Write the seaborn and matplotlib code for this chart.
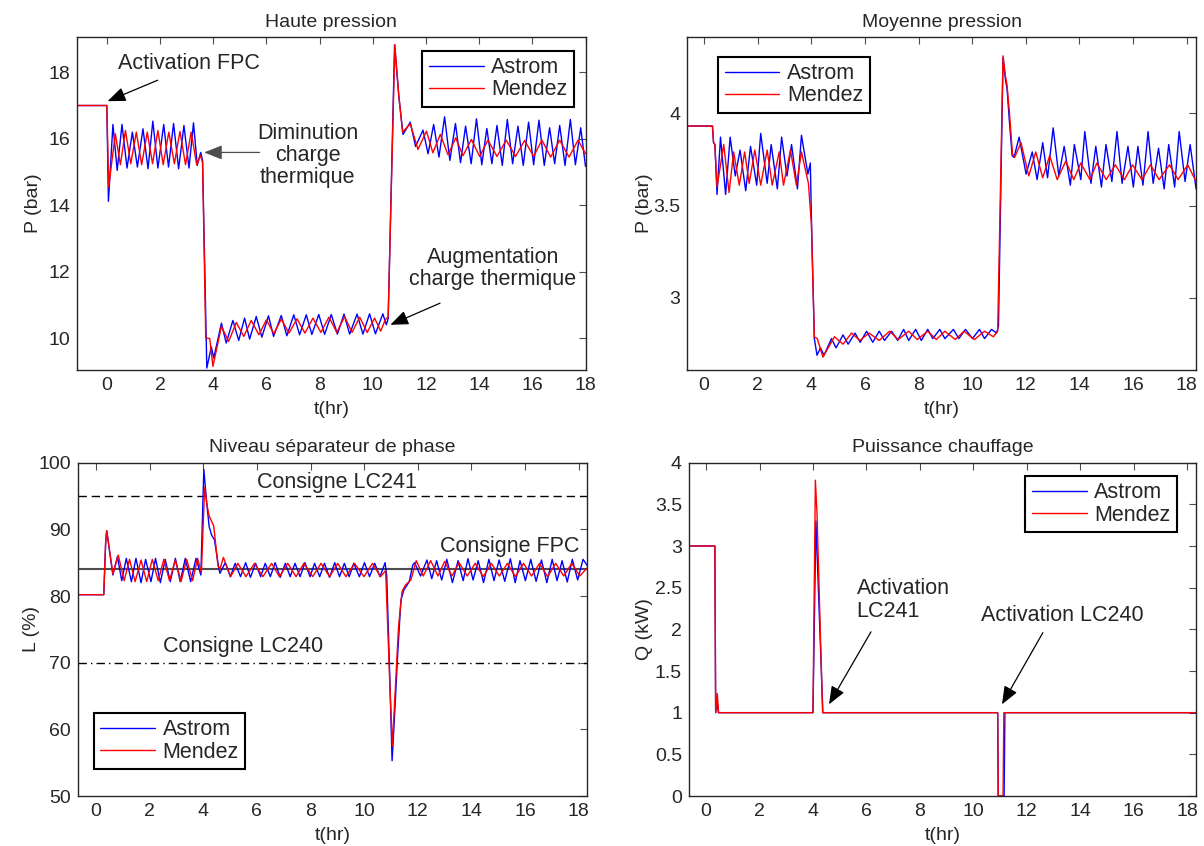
import numpy as np
import pandas as pd
import matplotlib.pyplot as plt
from matplotlib.ticker import FormatStrFormatter
import seaborn as sns

# --- Haute pression (bar) ---
hp_t_astrom = [-1.11, 0.0, 0.06,
               0.23, 0.39, 0.57, 0.76, 0.96, 1.15, 1.36, 1.55, 1.73, 1.92, 2.14, 2.32, 2.51, 2.70, 2.90, 3.09, 3.26, 3.40, 3.53, 3.60, 3.76, 3.93, 4.02,
               4.31, 4.49, 4.74, 4.96, 5.18, 5.37, 5.62, 5.83, 6.08, 6.27, 6.56, 6.77, 7.03, 7.25, 7.50, 7.71, 7.97, 8.19, 8.44, 8.67, 8.92, 9.13, 9.41, 9.63, 9.88, 10.10, 10.38, 10.51,
               10.58, 10.82, 10.98, 11.14, 11.41, 11.61,
               11.89, 12.08, 12.29, 12.49, 12.70, 12.90, 13.11, 13.30, 13.49, 13.70, 13.90, 14.10, 14.29, 14.48, 14.67, 14.87, 15.06, 15.26, 15.46, 15.66, 15.86, 16.05, 16.25, 16.45, 16.65, 16.84, 17.03, 17.23, 17.43, 17.62, 17.82, 18.0]
hp_astrom = [17.0, 17.0, 14.12,
             16.43, 15.05, 16.43, 15.12, 16.20, 15.15, 16.30, 15.10, 16.53, 15.12, 16.43, 15.15, 16.46, 15.10, 16.40, 15.12, 16.48, 15.20, 15.59, 15.35, 9.11, 9.75, 9.41,
             10.46, 9.86, 10.54, 9.94, 10.61, 9.98, 10.66, 10.04, 10.68, 10.06, 10.69, 10.08, 10.71, 10.11, 10.71, 10.12, 10.72, 10.12, 10.72, 10.13, 10.73, 10.13, 10.73, 10.13, 10.74, 10.14, 10.74, 10.41,
             10.6, 18.82, 17.28, 16.13, 16.50, 15.77,
             16.26, 15.55, 16.43, 15.45, 16.66, 15.35, 16.46, 15.28, 16.38, 15.25, 16.60, 15.22, 16.31, 15.25, 16.40, 15.20, 16.58, 15.25, 16.38, 15.20, 16.50, 15.22, 16.56, 15.20, 16.33, 15.25, 16.40, 15.20, 16.58, 15.22, 16.33, 15.17]
hp_t_mendez = [-1.11, 0.0, 0.07,
               0.32, 0.51, 0.70, 0.90, 1.11, 1.31, 1.52, 1.72, 1.92, 2.12, 2.33, 2.54, 2.75, 2.96, 3.17, 3.38, 3.52, 3.60, 3.72, 3.87, 3.99,
               4.31, 4.58, 4.87, 5.15, 5.43, 5.72, 6.00, 6.28, 6.56, 6.85, 7.15, 7.45, 7.75, 8.05, 8.35, 8.65, 8.94, 9.22, 9.51, 9.79, 10.07, 10.30, 10.47, 10.58,
               10.83, 10.98, 11.12, 11.41, 11.70,
               12.02, 12.26, 12.54, 12.83, 13.12, 13.39, 13.71, 14.02, 14.33, 14.67, 15.02, 15.37, 15.71, 16.05, 16.36, 16.69, 17.03, 17.38, 17.72, 18.0]
hp_mendez = [17.0, 17.0, 14.55,
             16.15, 15.22, 16.25, 15.25, 16.20, 15.22, 16.20, 15.25, 16.25, 15.22, 16.20, 15.25, 16.22, 15.22, 16.20, 15.22, 15.50, 15.30, 10.01, 10.0, 9.16,
             10.36, 9.91, 10.48, 10.06, 10.54, 10.11, 10.56, 10.14, 10.58, 10.16, 10.59, 10.16, 10.61, 10.18, 10.64, 10.18, 10.66, 10.18, 10.64, 10.18, 10.61, 10.22, 10.56, 10.65,
             18.83, 17.3, 16.2, 16.45, 15.68,
             16.23, 15.58, 16.13, 15.52, 16.03, 15.49, 15.98, 15.47, 15.96, 15.47, 15.96, 15.47, 15.95, 15.47, 15.96, 15.45, 15.96, 15.45, 15.96, 15.55]

# --- Moyenne pression (bar) ---
mp_t_astrom = [-0.64, 0.31, 0.35, 0.40, 0.48,
               0.61, 0.80, 0.97, 1.16, 1.34, 1.55, 1.73, 1.96, 2.11, 2.35, 2.50, 2.73, 2.89, 3.09, 3.26, 3.48, 3.63, 3.87, 3.96, 4.00, 4.11, 4.21,
               4.34, 4.47, 4.75, 4.92, 5.18, 5.37, 5.63, 5.82, 6.06, 6.29, 6.53, 6.73, 6.99, 7.22, 7.44, 7.63, 7.89, 8.10, 8.34, 8.53, 8.79, 8.98, 9.30, 9.50, 9.75, 10.01, 10.27, 10.46, 10.72, 10.91,
               10.98, 11.15, 11.24, 11.30, 11.39, 11.49, 11.56,
               11.75, 12.01, 12.24, 12.42, 12.63, 12.81, 13.02, 13.23, 13.43, 13.66, 13.81, 14.05, 14.20, 14.43, 14.61, 14.82, 14.99, 15.21, 15.40, 15.59, 15.81, 16.01, 16.18, 16.37, 16.56, 16.75, 16.95, 17.16, 17.33, 17.55, 17.72, 17.94, 18.13, 18.35]
mp_astrom = [3.93, 3.93, 3.84, 3.83, 3.56,
             3.87, 3.56, 3.87, 3.66, 3.80, 3.58, 3.82, 3.61, 3.89, 3.62, 3.83, 3.59, 3.87, 3.66, 3.83, 3.59, 3.88, 3.67, 3.73, 3.44, 2.78, 2.69,
             2.73, 2.69, 2.78, 2.73, 2.80, 2.75, 2.81, 2.76, 2.82, 2.76, 2.82, 2.77, 2.82, 2.77, 2.83, 2.77, 2.83, 2.77, 2.83, 2.78, 2.83, 2.78, 2.83, 2.78, 2.83, 2.78, 2.83, 2.78, 2.83, 2.81,
             2.85, 4.30, 4.18, 4.13, 3.95, 3.77, 3.76,
             3.87, 3.67, 3.79, 3.64, 3.84, 3.65, 3.92, 3.66, 3.82, 3.61, 3.83, 3.64, 3.90, 3.62, 3.82, 3.60, 3.83, 3.63, 3.90, 3.62, 3.82, 3.60, 3.82, 3.61, 3.90, 3.62, 3.81, 3.59, 3.83, 3.60, 3.90, 3.63, 3.83, 3.59]
mp_t_mendez = [-0.64, 0.31, 0.35, 0.40, 0.48,
               0.73, 0.93, 1.10, 1.31, 1.51, 1.68, 1.89, 2.11, 2.35, 2.54, 2.80, 2.96, 3.22, 3.44, 3.63, 3.89, 4.00, 4.11, 4.22, 4.43,
               4.86, 5.18, 5.50, 5.81, 6.15, 6.53, 6.92, 7.24, 7.63, 7.95, 8.34, 8.66, 8.98, 9.37, 9.69, 10.08, 10.46, 10.79, 10.95,
               11.15, 11.24, 11.30, 11.40, 11.50, 11.58,
               11.82, 12.11, 12.37, 12.63, 12.89, 13.17, 13.49, 13.79, 14.05, 14.39, 14.65, 15.0, 15.34, 15.68, 15.98, 16.33, 16.65, 16.97, 17.36, 17.68, 18.04, 18.35]
mp_mendez = [3.93, 3.93, 3.84, 3.83, 3.60,
             3.83, 3.57, 3.79, 3.61, 3.79, 3.62, 3.80, 3.61, 3.80, 3.61, 3.79, 3.61, 3.80, 3.61, 3.79, 3.62, 3.40, 2.79, 2.78, 2.68,
             2.79, 2.75, 2.81, 2.77, 2.81, 2.77, 2.82, 2.775, 2.82, 2.775, 2.82, 2.775, 2.82, 2.775, 2.82, 2.775, 2.82, 2.79, 2.82,
             4.31, 4.20, 4.15, 3.98, 3.78, 3.76,
             3.84, 3.66, 3.79, 3.65, 3.77, 3.64, 3.74, 3.64, 3.73, 3.64, 3.73, 3.64, 3.72, 3.64, 3.72, 3.64, 3.72, 3.64, 3.72, 3.64, 3.72, 3.63]

# --- Niveau separateur (%) ---
lvl_t_astrom = [-0.67, 0.29, 0.36, 0.40, 0.63, 0.80, 0.96, 1.13, 1.32, 1.49, 1.68, 1.85, 2.05, 2.22, 2.40, 2.58, 2.77, 2.96, 3.14, 3.33, 3.53, 3.73, 3.91, 4.02,
                4.13, 4.22, 4.31, 4.42, 4.55, 4.62,
                4.82, 5.01, 5.19, 5.39, 5.58, 5.76, 5.95, 6.14, 6.31, 6.50, 6.68, 6.87, 7.06, 7.24, 7.42, 7.61, 7.79, 7.98, 8.15, 8.34, 8.52, 8.71, 8.90, 9.08, 9.26, 9.44, 9.61, 9.82, 10.01, 10.20, 10.39, 10.59, 10.78,
                10.84, 10.95, 11.04, 11.15, 11.25, 11.37, 11.48, 11.68, 11.81,
                11.88, 12.10, 12.34, 12.52, 12.70, 12.89, 13.08, 13.29, 13.50, 13.69, 13.87, 14.06, 14.25, 14.45, 14.65, 14.84, 15.03, 15.24, 15.45, 15.63, 15.81, 16.01, 16.21, 16.41, 16.61, 16.81, 17.01, 17.19, 17.38, 17.57, 17.76, 17.96, 18.16, 18.31]
lvl_astrom = [80.2, 80.2, 88.0, 89.8, 83.15, 85.9, 82.3, 85.65, 82.15, 85.65, 82.0, 85.5, 82.15, 85.65, 82.0, 85.5, 82.15, 85.65, 82.15, 85.65, 82.15, 85.65, 83.15, 99.0,
              93.9, 90.4, 89.15, 88.4, 84.9, 83.4,
              85.0, 82.9, 84.9, 82.9, 85.0, 82.8, 84.9, 82.9, 84.9, 82.9, 85.0, 82.8, 84.9, 82.9, 84.9, 82.9, 85.0, 82.9, 84.9, 82.9, 84.9, 82.8, 85.0, 82.9, 84.9, 82.9, 84.9, 82.9, 85.0, 82.9, 84.9, 82.9, 85.0,
              83.0, 68.4, 55.3, 63.4, 71.4, 79.4, 80.9, 82.15, 84.65,
              85.0, 83.0, 85.4, 82.6, 85.3, 82.4, 85.5, 82.0, 85.3, 82.3, 85.6, 82.4, 85.3, 82.0, 85.5, 82.3, 85.4, 82.2, 85.6, 82.0, 85.3, 82.3, 85.5, 82.2, 85.4, 82.0, 85.5, 82.3, 85.3, 82.1, 85.5, 82.4, 85.5, 84.6]
lvl_t_mendez = [-0.67, 0.29, 0.36, 0.40, 0.63, 0.83, 1.05, 1.25, 1.46, 1.68, 1.89, 2.10, 2.32, 2.53, 2.74, 2.96, 3.17, 3.38, 3.60, 3.79, 3.93, 4.05,
                4.15, 4.22, 4.39, 4.55, 4.62,
                4.75, 5.02, 5.29, 5.59, 5.91, 6.22, 6.55, 6.84, 7.15, 7.46, 7.75, 8.08, 8.39, 8.71, 9.01, 9.32, 9.64, 9.99, 10.31, 10.61, 10.80,
                10.95, 11.05, 11.19, 11.28, 11.41, 11.54, 11.74,
                11.94, 12.20, 12.48, 12.75, 13.0, 13.27, 13.54, 13.84, 14.14, 14.44, 14.74, 15.04, 15.34, 15.64, 15.94, 16.24, 16.54, 16.84, 17.14, 17.44, 17.74, 18.04, 18.31]
lvl_mendez = [80.2, 80.2, 88.0, 89.8, 83.3, 86.15, 82.3, 85.5, 82.15, 85.4, 82.15, 85.5, 82.3, 85.5, 82.3, 85.4, 82.15, 85.5, 82.3, 85.65, 83.5, 96.3,
              93.4, 92.0, 90.5, 84.5, 84.0,
              85.8, 82.9, 84.9, 82.9, 84.9, 82.9, 84.9, 82.9, 84.9, 82.9, 84.9, 82.9, 84.9, 82.9, 84.9, 82.9, 84.9, 82.9, 84.9, 82.9, 83.8,
              67.4, 57.5, 68.4, 75.4, 80.65, 81.65, 82.4,
              85.3, 83.0, 85.3, 83.0, 85.2, 83.0, 85.0, 83.0, 84.9, 82.9, 84.9, 83.0, 84.9, 82.9, 84.9, 83.0, 84.9, 82.9, 84.9, 83.0, 84.9, 83.0, 84.2]
consignes = [95, 84, 70]   # LC241, FPC, LC240

# --- Puissance chauffage (kW) ---
q_t_astrom = [-0.64, 0.33, 0.36, 0.41, 0.46, 4.00, 4.11, 4.37, 10.91, 10.93, 11.15, 11.18, 18.33]
q_astrom = [3.0, 3.0, 1.0, 1.15, 1.0, 1.0, 3.3, 1.0, 1.0, 0.0, 0.0, 1.0, 1.0]
q_t_mendez = [-0.64, 0.33, 0.36, 0.42, 0.47, 4.00, 4.09, 4.15, 4.36, 10.91, 10.93, 11.11, 11.14, 18.33]
q_mendez = [3.0, 3.0, 1.0, 1.23, 1.0, 1.0, 3.79, 3.40, 1.0, 1.0, 0.0, 0.0, 1.0, 1.0]

sns.set_style('white')
plt.rcParams['font.family'] = ['Liberation Sans', 'DejaVu Sans']

BLUE = '#0000ff'
RED = '#ff0000'
FS = 14
FS_BIG = 15.5

fig = plt.figure(figsize=(12.04, 8.46), dpi=100)
ax1 = fig.add_axes([0.0642, 0.5626, 0.4221, 0.3933])
ax2 = fig.add_axes([0.5706, 0.5626, 0.4228, 0.3933])
ax3 = fig.add_axes([0.0648, 0.0591, 0.4228, 0.3940])
ax4 = fig.add_axes([0.5722, 0.0591, 0.4212, 0.3940])


def draw(ax, ta, ya, tm, ym):
    sns.lineplot(x=ta, y=ya, ax=ax, color=BLUE, lw=1.0, sort=False, estimator=None, label='Astrom',
                 solid_joinstyle='round')
    sns.lineplot(x=tm, y=ym, ax=ax, color=RED, lw=1.0, sort=False, estimator=None, label='Mendez',
                 solid_joinstyle='round')


def style(ax, title, ylab, xlim, ylim, yticks, ylab_x):
    ax.set_xlim(xlim)
    ax.set_ylim(ylim)
    ax.set_xticks(range(0, 19, 2))
    ax.set_yticks(yticks)
    ax.yaxis.set_major_formatter(FormatStrFormatter('%g'))
    ax.tick_params(direction='in', top=True, right=True, length=5, width=0.8,
                   color='0.3', labelsize=FS, pad=5)
    for s in ax.spines.values():
        s.set_color('0.15')
        s.set_linewidth(1.0)
    ax.set_title(title, fontsize=FS, pad=7.5)
    ax.set_xlabel('t(hr)', fontsize=FS)
    ax.set_ylabel(ylab, fontsize=FS)
    ax.xaxis.set_label_coords(0.5, -0.092)
    ax.yaxis.set_label_coords(ylab_x, 0.5)


def legend(ax, loc, anchor):
    lg = ax.legend(loc=loc, bbox_to_anchor=anchor, borderaxespad=0, fontsize=FS_BIG,
                   handlelength=2.55, handletextpad=0.35, borderpad=0.3, labelspacing=0.05,
                   fancybox=False, framealpha=1, edgecolor='black')
    lg.get_frame().set_linewidth(1.5)


def arrow(ax, start, end, color='black'):
    ax.annotate('', xy=end, xytext=start,
                arrowprops=dict(arrowstyle='-|>,head_length=0.55,head_width=0.22',
                                color=color, lw=0.9, mutation_scale=20, shrinkA=0, shrinkB=0))


# Haute pression
draw(ax1, hp_t_astrom, hp_astrom, hp_t_mendez, hp_mendez)
style(ax1, 'Haute pression', 'P (bar)', (-1.11, 18.0), (9.05, 19.05), [10, 12, 14, 16, 18], -0.07)
legend(ax1, 'upper right', (0.977, 0.960))
ax1.text(3.08, 18.25, 'Activation FPC', fontsize=FS_BIG, ha='center', va='center')
arrow(ax1, (1.91, 17.76), (0.03, 17.13))
ax1.text(7.55, 15.49, 'Diminution\ncharge\nthermique', fontsize=FS_BIG, ha='center', va='center',
         linespacing=1.05)
arrow(ax1, (5.74, 15.59), (3.66, 15.59), color='0.3')
ax1.text(14.51, 12.11, 'Augmentation\ncharge thermique', fontsize=FS_BIG, ha='center', va='center',
         linespacing=1.05)
arrow(ax1, (12.53, 11.06), (10.66, 10.41))

# Moyenne pression
draw(ax2, mp_t_astrom, mp_astrom, mp_t_mendez, mp_mendez)
style(ax2, 'Moyenne pression', 'P (bar)', (-0.64, 18.35), (2.61, 4.41), [3, 3.5, 4], -0.067)
legend(ax2, 'upper left', (0.061, 0.942))

# Niveau separateur de phase
draw(ax3, lvl_t_astrom, lvl_astrom, lvl_t_mendez, lvl_mendez)
style(ax3, 'Niveau séparateur de phase', 'L (%)', (-0.67, 18.31), (50, 100), range(50, 101, 10), -0.075)
ax3.axhline(consignes[0], color='black', lw=1.0, ls=(0, (6, 3.5)), zorder=1)
ax3.axhline(consignes[1], color='0.3', lw=1.5, zorder=1)
ax3.axhline(consignes[2], color='black', lw=1.0, ls=(0, (6, 3, 1, 3)), zorder=1)
ax3.text(8.97, 97.0, 'Consigne LC241', fontsize=FS_BIG, ha='center', va='center')
ax3.text(15.41, 87.5, 'Consigne FPC', fontsize=FS_BIG, ha='center', va='center')
ax3.text(5.49, 72.5, 'Consigne LC240', fontsize=FS_BIG, ha='center', va='center')
legend(ax3, 'lower left', (0.031, 0.081))

# Puissance chauffage
draw(ax4, q_t_astrom, q_astrom, q_t_mendez, q_mendez)
style(ax4, 'Puissance chauffage', 'Q (kW)', (-0.64, 18.33), (0, 4), np.arange(0, 4.01, 0.5), -0.071)
ax4.text(5.63, 2.35, 'Activation\nLC241', fontsize=FS_BIG, ha='left', va='center', linespacing=1.1)
arrow(ax4, (6.17, 1.97), (4.6, 1.10))
ax4.text(13.31, 2.17, 'Activation LC240', fontsize=FS_BIG, ha='center', va='center')
arrow(ax4, (12.6, 1.96), (11.07, 1.10))
legend(ax4, 'upper right', (0.962, 0.960))

fig.savefig('out.png', dpi=100)
